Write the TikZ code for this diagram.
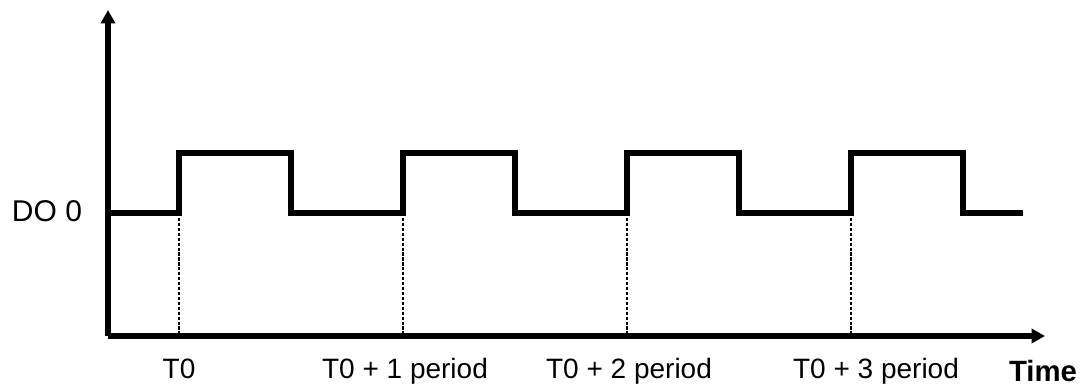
\documentclass[tikz,border=0pt]{standalone}
\usepackage{fontspec}
\setmainfont{Liberation Sans}
\usetikzlibrary{arrows.meta}
\begin{document}
\begin{tikzpicture}[x=0.75pt,y=-0.75pt,
  axis/.style={line width=4pt,-{Triangle[length=10pt,width=10.5pt]}},
  wave/.style={line width=4pt,line join=miter},
  guide/.style={line width=1.8pt,dash pattern=on 2.4pt off 1.3pt},
  lbl/.style={font=\fontsize{21}{24}\selectfont,inner sep=0pt,anchor=base},
  ttl/.style={font=\bfseries\fontsize{22}{26}\selectfont,inner sep=0pt,anchor=base}]
\useasboundingbox (0,0) rectangle (1091,385);
% axes
\coordinate (O) at (108,336);
\coordinate (ytop) at (108,10);
\coordinate (xend) at (1045,336);
\draw[axis] (O) -- (ytop);
\draw[axis] (O) -- (xend);
% edge coordinates
\foreach \i/\x in {0/179,1/403,2/627,3/851}{
  \coordinate (r\i) at (\x,213);
  \coordinate (b\i) at (\x,336);
}
% dashed guides
\foreach \i in {0,1,2,3}{ \draw[guide] (r\i) -- (b\i); }
% waveform
\draw[wave] (108,213) -- (179,213) -- (179,153) -- (291,153) -- (291,213)
  -- (403,213) -- (403,153) -- (515,153) -- (515,213)
  -- (627,213) -- (627,153) -- (739,153) -- (739,213)
  -- (851,213) -- (851,153) -- (963,153) -- (963,213) -- (1023,213);
% labels
\node[font=\fontsize{22.5}{26}\selectfont,inner sep=0pt,anchor=base] (do) at (47,221) {DO 0};
\node[lbl] (l0) at (179,378) {T0};
\node[lbl] (l1) at (405,378) {T0 + 1 period};
\node[lbl] (l2) at (629,378) {T0 + 2 period};
\node[lbl] (l3) at (876,378) {T0 + 3 period};
\node[ttl] (time) at (1043,381) {Time};
\end{tikzpicture}
\end{document}
